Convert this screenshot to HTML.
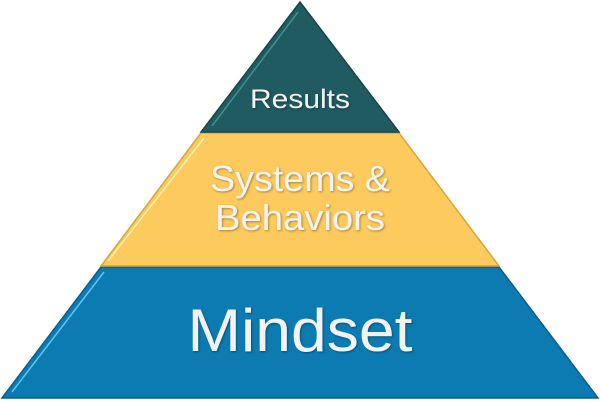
<!DOCTYPE html>
<html><head><style>
html,body{margin:0;padding:0;background:#fff;}
svg{display:block}
text{font-family:"Liberation Sans",sans-serif;fill:#f2f2f2;text-anchor:middle}
</style></head><body>
<svg width="600" height="403" viewBox="0 0 600 403">
<defs><filter id="s"><feDropShadow dx="1" dy="1" stdDeviation="1" flood-color="#000" flood-opacity="0.35"/></filter></defs>
<polygon points="2,398 598,398 499,267 101,267" fill="#0b7bb2" stroke="#0a5f8a" stroke-width="1.5"/>
<polyline points="12,392 104,272" fill="none" stroke="#5ec6f5" stroke-width="1.5"/>
<polygon points="101,266 499,266 399,133 201,133" fill="#fcca5d" stroke="#d9a53a" stroke-width="1.5"/>
<polyline points="108,261 204,138" fill="none" stroke="#fff2b0" stroke-width="1.5"/>
<polygon points="300,2 399,132 201,132" fill="#1f5b61" stroke="#174549" stroke-width="1.5"/>
<polyline points="212,126 298,12" fill="none" stroke="#3f8f95" stroke-width="1.5"/>
<g filter="url(#s)">
<text x="300" y="108" font-size="27" textLength="100" lengthAdjust="spacingAndGlyphs">Results</text>
<text x="300" y="191" font-size="36" textLength="180" lengthAdjust="spacingAndGlyphs">Systems &amp;</text>
<text x="300" y="230" font-size="36" textLength="170" lengthAdjust="spacingAndGlyphs">Behaviors</text>
<text x="300" y="351" font-size="60" textLength="225" lengthAdjust="spacingAndGlyphs">Mindset</text>
</g>
</svg>
</body></html>
